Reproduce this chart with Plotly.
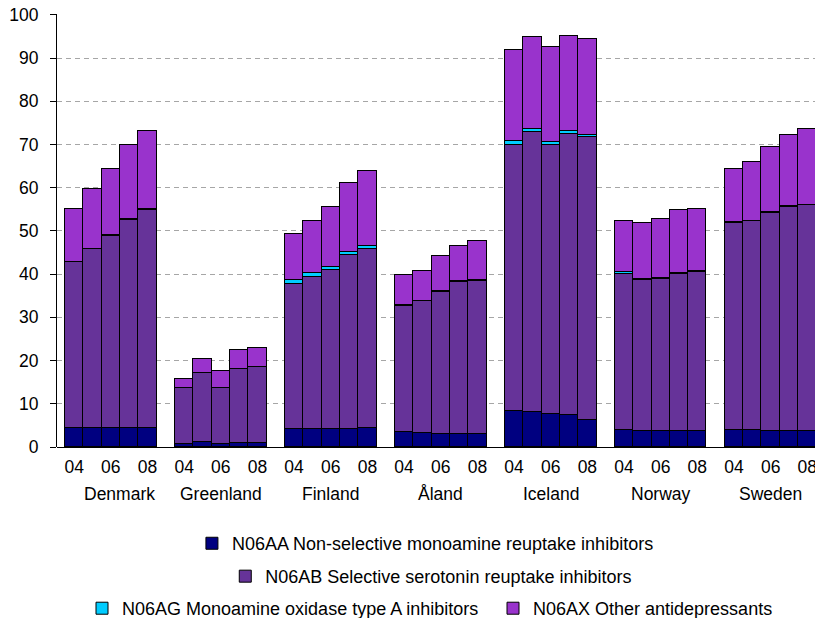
import numpy as np
import plotly.graph_objects as go

countries = ["Denmark", "Greenland", "Finland", "Åland", "Iceland", "Norway", "Sweden"]
years = ["04", "05", "06", "07", "08"]
shown_years = ["04", "06", "08"]

series_names = [
    "N06AA Non-selective monoamine reuptake inhibitors",
    "N06AB Selective serotonin reuptake inhibitors",
    "N06AG Monoamine oxidase type A inhibitors",
    "N06AX Other antidepressants",
]

# values per country, years 04..08
n06aa = [
    [4.4, 4.4, 4.3, 4.5, 4.5],
    [0.8, 1.2, 0.8, 0.9, 0.9],
    [4.2, 4.2, 4.2, 4.2, 4.4],
    [3.4, 3.2, 3.1, 3.1, 2.9],
    [8.3, 8.0, 7.6, 7.3, 6.2],
    [3.9, 3.8, 3.8, 3.7, 3.7],
    [3.9, 3.9, 3.8, 3.7, 3.6],
]
n06ab = [
    [38.3, 41.4, 44.6, 48.1, 50.4],
    [12.9, 15.9, 12.8, 17.2, 17.6],
    [33.5, 35.2, 36.7, 40.3, 41.5],
    [29.2, 30.5, 32.8, 35.0, 35.5],
    [61.7, 64.8, 62.2, 65.2, 65.5],
    [36.1, 34.8, 35.0, 36.3, 36.9],
    [47.9, 48.3, 50.4, 51.8, 52.3],
]
n06ag = [
    [0.1, 0.1, 0.1, 0.1, 0.1],
    [0.0, 0.0, 0.0, 0.0, 0.0],
    [0.9, 0.9, 0.7, 0.7, 0.6],
    [0.3, 0.2, 0.3, 0.2, 0.2],
    [0.8, 0.8, 0.8, 0.7, 0.6],
    [0.4, 0.2, 0.2, 0.2, 0.2],
    [0.2, 0.2, 0.2, 0.2, 0.2],
]
n06ax = [
    [12.2, 13.7, 15.4, 17.1, 18.2],
    [2.1, 3.3, 4.0, 4.4, 4.5],
    [10.6, 11.9, 13.9, 15.9, 17.4],
    [7.0, 6.8, 8.1, 8.3, 9.1],
    [21.0, 21.2, 21.9, 22.0, 22.2],
    [11.9, 13.1, 13.7, 14.6, 14.3],
    [12.4, 13.6, 15.1, 16.4, 17.4],
]

colors = ["#000080", "#663399", "#00CCFF", "#9933CC"]
legends = ["legend", "legend2", "legend3", "legend3"]
legend_widths = [None, None, 366, None]
label_xshift = [9, 0, 0, 0, 0, 0, 0]

FONT = "Liberation Sans, Arial, sans-serif"

slot = len(years) + 1
xpos = np.array([g * slot + i for g in range(len(countries)) for i in range(len(years))])

fig = go.Figure()
for name, vals, col, lg, lw in zip(series_names, [n06aa, n06ab, n06ag, n06ax], colors, legends, legend_widths):
    fig.add_trace(go.Bar(
        x=xpos,
        y=np.array(vals).ravel(),
        name=name,
        width=1.0,
        marker=dict(color=col, line=dict(color="#000000", width=1)),
        legend=lg,
        legendwidth=lw,
        hovertemplate="%{y}<extra>" + name + "</extra>",
    ))

tickvals = [g * slot + years.index(y) for g in range(len(countries)) for y in shown_years]
ticktext = [y for g in range(len(countries)) for y in shown_years]

for g, c in enumerate(countries):
    fig.add_annotation(
        x=g * slot + (len(years) - 1) / 2, xref="x",
        y=0, yref="paper", yanchor="middle", yshift=-47, xshift=label_xshift[g],
        text=c, showarrow=False,
        font=dict(family=FONT, size=17.5, color="#000000"),
    )

legend_common = dict(
    orientation="h", yanchor="middle", xanchor="left",
    bgcolor="rgba(0,0,0,0)", borderwidth=0,
    font=dict(family=FONT, size=18, color="#000000"),
    traceorder="normal",
)

fig.update_layout(
    width=815, height=618,
    margin=dict(l=57, r=0, t=14, b=171, autoexpand=False),
    paper_bgcolor="#FFFFFF", plot_bgcolor="#FFFFFF",
    barmode="stack", bargap=0,
    font=dict(family=FONT, size=17.5, color="#000000"),
    showlegend=True,
    legend=dict(**legend_common, x=0.178, y=-0.223),
    legend2=dict(**legend_common, x=0.222, y=-0.299),
    legend3=dict(**legend_common, x=0.033, y=-0.373),
    xaxis=dict(
        range=[-0.936, 40.42],
        tickmode="array", tickvals=tickvals, ticktext=ticktext,
        ticks="", ticklabelstandoff=7, ticklabeloverflow="allow",
        showgrid=False, zeroline=False,
        showline=False,
        tickfont=dict(family=FONT, size=17.5, color="#000000"),
        fixedrange=True,
    ),
    yaxis=dict(
        range=[0, 100.2], dtick=10, tick0=0,
        showline=True, linecolor="#000000", linewidth=1,
        ticks="outside", ticklen=6, tickcolor="#000000", tickwidth=1,
        ticklabelstandoff=8, ticklabeloverflow="allow",
        showgrid=True, gridcolor="#A6A6A6", gridwidth=1, griddash="5px,4px",
        zeroline=True, zerolinecolor="#000000", zerolinewidth=1,
        tickfont=dict(family=FONT, size=17.5, color="#000000"),
        fixedrange=True,
    ),
)

fig.write_html(
    "out.html",
    config={"displayModeBar": False},
    post_script="document.body.style.margin='0';document.body.style.overflow='hidden';",
)
